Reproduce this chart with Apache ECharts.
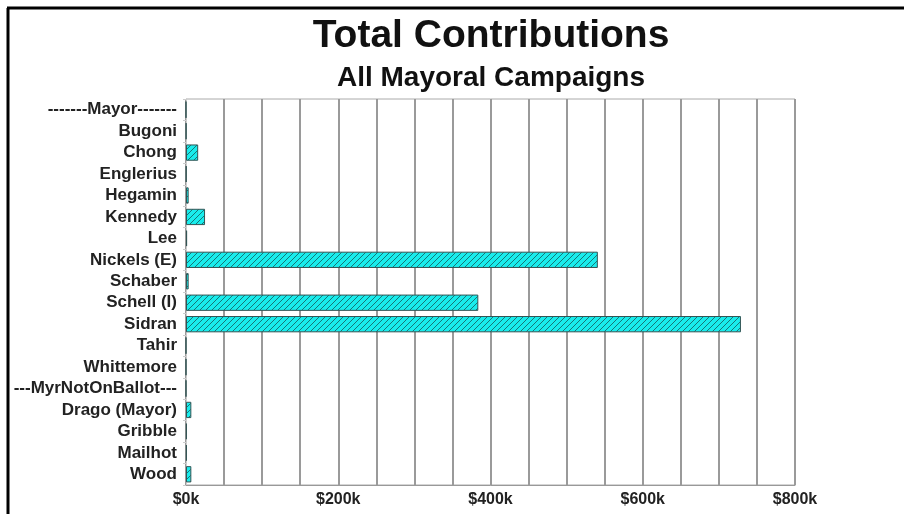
<!DOCTYPE html>
<html>
<head>
<meta charset="utf-8">
<script src="https://cdn.jsdelivr.net/npm/echarts@6/dist/echarts.min.js"></script>
<style>html,body{margin:0;padding:0;background:#fff;}#c{width:904px;height:514px;}</style>
</head>
<body>
<div id="c"></div>
<script>
var categories = ['-------Mayor-------','Bugoni','Chong','Englerius','Hegamin','Kennedy','Lee','Nickels (E)','Schaber','Schell (I)','Sidran','Tahir','Whittemore','---MyrNotOnBallot---','Drago (Mayor)','Gribble','Mailhot','Wood'];
var contributions = [0, 300, 16000, 500, 3500, 25000, 1500, 541000, 3500, 384000, 729000, 0, 0, 0, 7000, 1000, 1000, 7000];
var titleText = 'Total Contributions';
var subtitleText = 'All Mayoral Campaigns';

function hatch() {
  var c = document.createElement('canvas');
  c.width = 6; c.height = 6;
  var g = c.getContext('2d');
  g.fillStyle = '#19ecec';
  g.fillRect(0, 0, 6, 6);
  g.strokeStyle = 'rgba(20,70,70,0.7)';
  g.lineWidth = 1;
  g.beginPath();
  g.moveTo(0, 6); g.lineTo(6, 0);
  g.moveTo(-3, 3); g.lineTo(3, -3);
  g.moveTo(3, 9); g.lineTo(9, 3);
  g.stroke();
  return c;
}

var chart = echarts.init(document.getElementById('c'), null, {renderer: 'canvas'});
chart.setOption({
  animation: false,
  backgroundColor: '#fff',
  title: [
    {text: titleText, left: 486, top: 12, textAlign: 'center',
     textStyle: {fontFamily: 'Liberation Sans, Arial', fontWeight: 'bold', fontSize: 39, color: '#111'}},
    {text: subtitleText, left: 486, top: 59, textAlign: 'center',
     textStyle: {fontFamily: 'Liberation Sans, Arial', fontWeight: 'bold', fontSize: 28, color: '#111'}}
  ],
  graphic: [
    {type: 'line', shape: {x1: 7, y1: 8, x2: 904, y2: 8}, style: {stroke: '#000', lineWidth: 3}},
    {type: 'line', shape: {x1: 8, y1: 8, x2: 8, y2: 514}, style: {stroke: '#000', lineWidth: 3}}
  ],
  grid: {left: 186, right: 109, top: 99, bottom: 29, show: true, borderColor: '#aaa', borderWidth: 1},
  xAxis: {
    type: 'value', min: 0, max: 800000, interval: 50000,
    axisLine: {show: true, lineStyle: {color: '#999', width: 1}},
    axisTick: {show: false},
    splitLine: {show: true, lineStyle: {color: '#9a9a9a', width: 2}},
    axisLabel: {
      margin: 7, fontFamily: 'Liberation Sans, Arial', fontWeight: 'bold', fontSize: 16, color: '#222',
      formatter: function (v) { return v % 200000 === 0 ? '$' + (v / 1000) + 'k' : ''; }
    }
  },
  yAxis: {
    type: 'category', data: categories, inverse: true,
    axisLine: {show: true, lineStyle: {color: '#ccc', width: 1}},
    axisTick: {show: true, length: 3, interval: 0, lineStyle: {color: '#ccc'}},
    splitLine: {show: false},
    axisLabel: {interval: 0, hideOverlap: false, margin: 9, fontFamily: 'Liberation Sans, Arial', fontWeight: 'bold', fontSize: 17, color: '#222'}
  },
  series: [{
    type: 'bar', data: contributions, barCategoryGap: '24%',
    itemStyle: {color: {image: hatch(), repeat: 'repeat'}, borderColor: '#335555', borderWidth: 1}
  }]
});
</script>
</body>
</html>
